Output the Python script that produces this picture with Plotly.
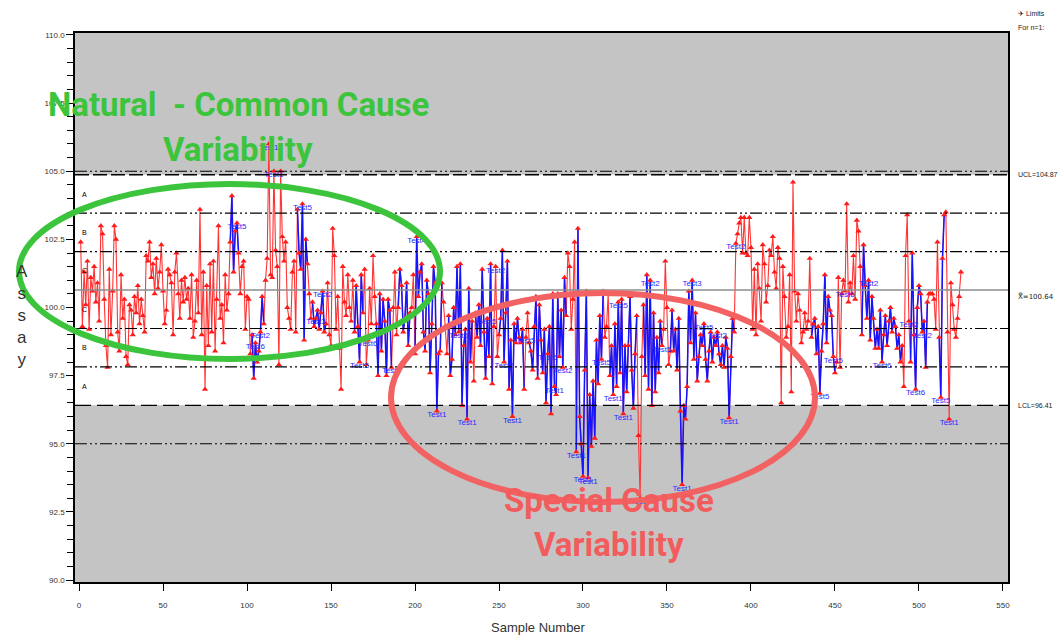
import plotly.graph_objects as go

# ---------------- data ----------------
assay_001_100 = [
    102.4, 99.3, 101.3, 100.1, 101.7, 99.2, 101.1, 100.6, 101.5, 100.2, 100.9, 99.5, 103.0, 102.7, 100.3, 98.6, 97.8, 101.4, 99.0, 100.6, 103.0, 102.5, 99.1, 98.4, 101.2,
    99.6, 100.3, 98.2, 97.9, 100.1, 99.9, 99.0, 100.4, 99.8, 100.8, 99.4, 100.3, 99.7, 99.1, 101.9, 101.7, 102.4, 101.1, 101.6, 100.5, 101.8, 100.7, 101.3, 102.3, 100.6,
    99.4, 99.9, 101.4, 101.2, 100.9, 99.0, 101.3, 102.0, 100.5, 99.6, 101.0, 100.2, 101.1, 100.3, 100.7, 99.6, 101.2, 98.9, 99.5, 101.0, 99.8, 103.6, 99.0, 101.3, 97.0,
    100.8, 98.6, 101.6, 99.1, 101.7, 98.4, 100.3, 103.0, 99.6, 100.1, 98.7, 101.2, 99.9, 100.5, 102.4, 104.1, 101.3, 102.8, 103.1, 102.0, 100.5, 101.5, 101.7, 99.2, 100.4,
]
assay_101_200 = [
    100.3, 98.3, 99.0, 97.4, 98.7, 98.0, 98.4, 99.1, 100.4, 99.4, 101.0, 101.8, 106.0, 101.2, 101.1, 105.0, 102.1, 101.5, 97.9, 105.0, 102.6, 101.7, 102.4, 100.0, 99.6,
    99.2, 101.3, 101.7, 99.1, 103.6, 102.0, 101.4, 103.8, 98.8, 102.5, 101.6, 100.5, 99.6, 100.2, 99.3, 99.6, 99.9, 99.2, 99.8, 100.6, 99.1, 99.4, 100.9, 99.0, 98.6,
    102.9, 101.9, 99.2, 100.4, 98.5, 97.0, 101.5, 100.2, 99.7, 101.2, 100.0, 99.5, 101.0, 99.1, 100.8, 99.3, 98.0, 101.2, 99.8, 101.4, 97.9, 98.8, 100.7, 99.4, 101.9,
    100.4, 99.4, 97.5, 100.5, 98.4, 100.3, 99.5, 97.5, 100.3, 99.9, 97.8, 100.0, 101.3, 99.0, 100.0, 101.4, 100.8, 99.1, 99.6, 100.9, 98.6, 99.8, 100.0, 101.2, 98.3,
]
assay_201_300 = [
    102.6, 100.4, 101.3, 101.6, 99.1, 98.4, 101.0, 100.5, 97.6, 99.4, 101.5, 100.9, 96.2, 98.3, 98.4, 100.9, 100.2, 99.3, 98.3, 99.7, 97.5, 98.1, 100.0, 99.0, 101.5,
    99.1, 101.6, 96.4, 98.6, 99.2, 95.9, 100.7, 98.0, 99.5, 97.3, 99.8, 98.9, 100.1, 98.6, 101.4, 99.1, 97.4, 99.6, 98.2, 101.6, 97.2, 99.3, 101.5, 98.2, 99.0,
    99.6, 102.1, 98.0, 99.8, 101.7, 97.0, 98.8, 96.0, 99.4, 98.7, 99.6, 98.9, 98.7, 99.2, 97.0, 98.9, 99.8, 98.7, 98.4, 97.7, 99.3, 100.4, 97.4, 100.1, 98.8,
    97.6, 99.2, 96.5, 98.3, 99.3, 96.1, 100.5, 97.1, 96.8, 100.5, 98.2, 99.9, 97.8, 101.1, 99.7, 102.0, 101.5, 99.2, 100.3, 102.4, 94.7, 102.9, 96.0, 95.0, 93.8,
]
assay_301_400 = [
    97.7, 100.6, 93.75, 96.8, 94.9, 97.3, 95.2, 98.8, 97.2, 99.7, 98.1, 100.6, 98.9, 99.3, 100.5, 97.5, 98.6, 96.8, 99.4, 97.1, 100.2, 97.6, 100.3, 96.1, 98.6,
    96.9, 98.6, 100.4, 97.7, 96.3, 98.3, 99.7, 95.3, 93.0, 98.2, 100.1, 97.5, 101.2, 97.0, 101.0, 96.4, 99.8, 96.9, 98.9, 97.6, 99.5, 98.6, 99.2, 101.7, 100.0,
    97.9, 98.4, 99.9, 98.4, 99.2, 97.7, 99.6, 96.2, 93.5, 96.4, 95.9, 97.1, 100.6, 98.7, 101.0, 98.1, 99.8, 97.3, 98.2, 99.0, 98.6, 99.4, 98.1, 97.3, 98.4,
    99.1, 98.0, 98.9, 98.6, 99.1, 98.3, 97.9, 98.6, 97.8, 98.9, 98.5, 95.95, 98.2, 99.6, 99.1, 102.35, 102.7, 103.1, 103.3, 102.0, 103.3, 102.0, 101.9, 103.3, 102.2,
]
assay_401_525 = [
    99.2, 101.4, 99.0, 101.6, 100.7, 99.5, 102.3, 101.6, 100.2, 100.8, 102.1, 101.9, 102.6, 101.3, 100.7, 102.2, 101.8, 96.5, 101.5, 100.4, 98.9, 99.3, 101.2, 96.9, 104.6,
    100.6, 99.5, 100.5, 99.9, 98.7, 99.1, 99.8, 99.2, 99.5, 101.8, 98.9, 99.4, 99.6, 98.3, 99.3, 96.85, 98.4, 99.4, 101.2, 98.7, 100.4, 99.9, 99.7, 98.2, 97.6,
    98.0, 101.1, 97.8, 100.5, 101.0, 100.6, 103.8, 100.2, 100.9, 100.5, 101.9, 100.3, 103.2, 102.8, 101.5, 99.0, 102.3, 100.8, 99.6, 101.0, 98.8, 100.4, 99.6, 98.5, 99.2,
    98.5, 99.9, 98.0, 99.0, 99.7, 98.6, 99.5, 100.0, 99.1, 99.6, 99.3, 98.5, 99.0, 98.0, 98.6, 97.1, 101.9, 103.4, 99.5, 98.0, 102.0, 99.0, 97.0, 100.0, 100.8,
    100.5, 99.1, 99.5, 97.8, 100.2, 100.5, 100.5, 100.5, 100.3, 99.2, 102.4, 98.9, 96.7, 101.8, 103.4, 103.5, 99.1, 95.9, 100.9, 100.1, 99.2, 98.9, 99.6, 100.4, 101.3,
]

# runs of samples flagged by the tests (drawn in blue)
flag_start = [90, 103, 130, 139, 164, 177, 190, 200, 220, 236, 250, 268, 296, 316, 336, 352, 436, 466, 495, 512]
flag_end = [95, 110, 136, 147, 169, 186, 197, 216, 234, 246, 265, 290, 312, 332, 347, 390, 450, 490, 505, 515]

# test labels
test_samples = [94, 105, 108, 113, 116, 133, 141, 145, 167, 172, 186, 201, 213, 226, 231, 243, 248, 253, 258, 266,
                279, 283, 288, 296, 300, 303, 311, 318, 321, 324, 334, 340, 347, 359, 365, 372, 380, 387, 391,
                441, 449, 456, 470, 478, 494, 498, 502, 513, 518]
test_names = ["Test5", "Test6", "Test2", "Test1", "Test1", "Test5", "Test3", "Test2", "Test5", "Test6", "Test5", "Test4", "Test1", "Test5", "Test1", "Test5", "Test2", "Test2", "Test1", "Test5",
              "Test5", "Test1", "Test2", "Test1", "Test1", "Test1", "Test5", "Test1", "Test5", "Test1", "Test1", "Test2", "Test5", "Test1", "Test3", "Test5", "Test2", "Test1", "Test2",
              "Test5", "Test5", "Test6", "Test2", "Test6", "Test2", "Test6", "Test2", "Test5", "Test1"]

center_line = 100.64
ucl = 104.87
lcl = 96.41
spec_upper = 105.0
spec_lower = 95.0
zone_letters = ["A", "B", "C", "C", "B", "A"]

y_ticks = [90.0, 92.5, 95.0, 97.5, 100.0, 102.5, 105.0, 107.5, 110.0]
x_ticks = [0, 50, 100, 150, 200, 250, 300, 350, 400, 450, 500, 550]

# ---------------- build ----------------
assay = assay_001_100 + assay_101_200 + assay_201_300 + assay_301_400 + assay_401_525
samples = list(range(1, len(assay) + 1))
sigma = (ucl - center_line) / 3.0

flagged = set()
for s, e in zip(flag_start, flag_end):
    flagged.update(range(s, e + 1))
blue_y = [v if n in flagged else None for n, v in zip(samples, assay)]

W, H = 1061, 635
ML, MR, MT, MB = 75, 53, 33, 53
PW, PH = W - ML - MR, H - MT - MB


def px(xp):
    return (xp - ML) / PW


def py(yp):
    return (H - MB - yp) / PH


fig = go.Figure()
fig.add_trace(go.Scatter(x=samples, y=assay, mode="lines",
                         line=dict(color="#ff3434", width=1.1), hoverinfo="skip"))
fig.add_trace(go.Scatter(x=samples, y=blue_y, mode="lines", connectgaps=False,
                         line=dict(color="#1414ff", width=1.5), hoverinfo="skip"))
fig.add_trace(go.Scatter(x=samples, y=assay, mode="markers",
                         marker=dict(symbol="triangle-up", size=5.5, color="#ff1a1a"),
                         hoverinfo="x+y"))
label_y = [assay[s - 1] for s in test_samples]
fig.add_trace(go.Scatter(x=test_samples, y=label_y, mode="text", text=test_names,
                         textposition="bottom center",
                         textfont=dict(family="Liberation Sans", size=8, color="#2a2aff"),
                         hoverinfo="skip"))

shapes = []
# white band inside the control limits (grey elsewhere)
shapes.append(dict(type="rect", xref="paper", yref="y", x0=0, x1=1, y0=lcl, y1=ucl,
                   fillcolor="white", line=dict(width=0), layer="below"))
ddot = "12px,3px,2px,3px,2px,3px"


def hline(y, dash, color="black", width=1.2):
    shapes.append(dict(type="line", xref="paper", yref="y", x0=0, x1=1, y0=y, y1=y,
                       line=dict(color=color, width=width, dash=dash), layer="above"))


hline(spec_upper, ddot)
hline(ucl, "14px,4px", width=1.4)
hline(center_line + 2 * sigma, ddot)
hline(center_line + sigma, ddot)
hline(center_line, "solid", color="#8c8c8c", width=1.5)
hline(center_line - sigma, ddot)
hline(center_line - 2 * sigma, ddot)
hline(lcl, "16px,6px", width=1.4)
hline(spec_lower, ddot)

# ellipses
shapes.append(dict(type="circle", xref="paper", yref="paper",
                   x0=px(19), x1=px(440), y0=py(359), y1=py(184),
                   line=dict(color="#3cc43c", width=6), layer="above"))
shapes.append(dict(type="circle", xref="paper", yref="paper",
                   x0=px(391), x1=px(815), y0=py(502), y1=py(293),
                   line=dict(color="#f26262", width=6), layer="above"))

annotations = []
zone_values = [center_line + 2.5 * sigma, center_line + 1.5 * sigma, center_line + 0.5 * sigma,
               center_line - 0.5 * sigma, center_line - 1.5 * sigma, center_line - 2.5 * sigma]
for letter, zv in zip(zone_letters, zone_values):
    annotations.append(dict(x=3, y=zv, xref="x", yref="y", text=letter, showarrow=False,
                            xanchor="center", yanchor="middle",
                            font=dict(family="Liberation Sans", size=7, color="black")))

small = dict(family="Liberation Sans", size=7, color="#222")
annotations += [
    dict(x=px(1016), y=py(13), xref="paper", yref="paper", text="\u2708 Limits", showarrow=False,
         xanchor="left", yanchor="middle", font=small),
    dict(x=px(1016), y=py(28), xref="paper", yref="paper", text="For n=1:", showarrow=False,
         xanchor="left", yanchor="middle", font=small),
    dict(x=px(1016), y=ucl, xref="paper", yref="y", text=f"UCL={ucl:.2f}", showarrow=False,
         xanchor="left", yanchor="middle", font=small),
    dict(x=px(1016), y=center_line, xref="paper", yref="y", text=f"X\u033F={center_line:.2f}",
         showarrow=False, xanchor="left", yanchor="top",
         font=dict(family="DejaVu Sans", size=7, color="#222")),
    dict(x=px(1016), y=lcl, xref="paper", yref="y", text=f"LCL={lcl:.2f}", showarrow=False,
         xanchor="left", yanchor="middle", font=small),
    dict(x=px(22), y=py(315), xref="paper", yref="paper", text="A<br>s<br>s<br>a<br>y",
         showarrow=False, xanchor="center", yanchor="middle",
         font=dict(family="Liberation Sans", size=17, color="#333")),
    dict(x=px(538), y=py(627), xref="paper", yref="paper", text="Sample Number",
         showarrow=False, xanchor="center", yanchor="middle",
         font=dict(family="Liberation Sans", size=13, color="#333")),
]
big_green = dict(family="Roboto", size=33, color="#3cc43c", weight="bold")
big_red = dict(family="Roboto", size=33, color="#f25c5c", weight="bold")
annotations += [
    dict(x=px(238), y=py(104), xref="paper", yref="paper", text="Natural\u00a0 - Common Cause",
         showarrow=False, xanchor="center", yanchor="middle", font=big_green),
    dict(x=px(238), y=py(149), xref="paper", yref="paper", text="Variability",
         showarrow=False, xanchor="center", yanchor="middle", font=big_green),
    dict(x=px(609), y=py(500), xref="paper", yref="paper", text="Special Cause",
         showarrow=False, xanchor="center", yanchor="middle", font=big_red),
    dict(x=px(609), y=py(544), xref="paper", yref="paper", text="Variability",
         showarrow=False, xanchor="center", yanchor="middle", font=big_red),
]

fig.update_layout(
    width=W, height=H,
    margin=dict(l=ML, r=MR, t=MT, b=MB, pad=0),
    paper_bgcolor="white", plot_bgcolor="#c4c4c4",
    showlegend=False,
    shapes=shapes, annotations=annotations,
    xaxis=dict(range=[-2.4, 553], tickvals=x_ticks, ticktext=[str(v) for v in x_ticks],
               showgrid=False, zeroline=False, showline=True, linecolor="black", linewidth=1.5,
               mirror=True, ticks="outside", ticklen=7, tickcolor="black", tickwidth=1.2,
               ticklabelstandoff=8,
               tickfont=dict(family="Liberation Sans", size=8, color="#333")),
    yaxis=dict(range=[89.927, 110.073], tickvals=y_ticks, ticktext=[f"{v:.1f}" for v in y_ticks],
               showgrid=False, zeroline=False, showline=True, linecolor="black", linewidth=1.5,
               mirror=True, ticks="outside", ticklen=7, tickcolor="black", tickwidth=1.2,
               minor=dict(dtick=0.5, ticks="outside", ticklen=6, tickcolor="black", tickwidth=1.2),
               tickfont=dict(family="Liberation Sans", size=8, color="#333")),
)

fig.write_html("out.html")
